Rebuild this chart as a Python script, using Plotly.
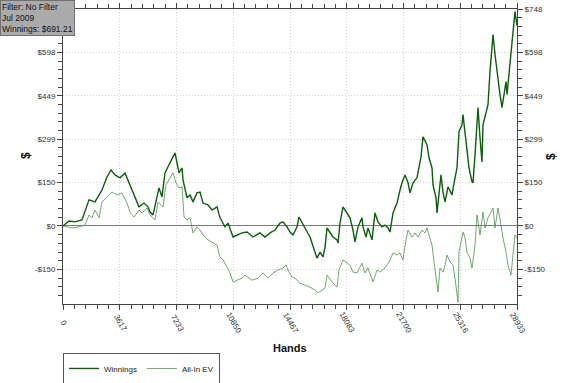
import plotly.graph_objects as go

# ---- data ----
hands_w = [0,382,765,1211,1657,2039,2485,2804,3059,3314,
           3633,3951,4206,4397,4588,4843,5162,5417,5545,5736,
           5991,6118,6309,6500,6692,6947,7138,7265,7393,7584,
           7648,7902,8094,8285,8540,8731,8922,9241,9496,9814,
           10006,10324,10515,10834,11089,11408,11726,12109,12555,12873,
           13192,13511,13829,14021,14276,14467,14658,14913,15040,15231,
           15423,15741,15932,16187,16379,16570,16697,16825,17207,17462,
           17526,17653,17844,18099,18291,18482,18609,18800,19055,19119,
           19310,19438,19693,19884,20075,20330,20521,20712,20840,21031,
           21286,21477,21604,21796,21987,22114,22306,22560,22624,22815,
           22943,23198,23325,23516,23580,23771,23835,23962,24089,24217,
           24345,24536,24791,24982,25110,25237,25428,25492,25619,25747,
           25874,26065,26129,26257,26384,26448,26575,26703,26766,26957,
           27085,27212,27340,27404,27531,27658,27850,27977,28105,28232,
           28296,28487,28679,28806,28933]
winnings = [0,17,14,21,90,83,124,169,193,176,
            166,183,149,124,100,66,79,66,48,38,
            100,131,100,183,204,235,252,218,183,200,
            159,97,107,83,114,117,79,73,55,66,
            28,-3,10,-38,-31,-24,-21,-38,-24,-38,
            -24,-14,10,14,-3,-21,-31,-3,31,14,
            -7,-38,-73,-111,-90,-107,-73,-7,-38,-48,
            -59,10,66,45,28,-14,-55,-3,28,-3,
            -38,-7,-48,45,14,-3,3,-7,-21,45,
            79,124,149,176,149,114,149,166,183,238,
            307,280,235,200,142,97,45,107,176,117,
            83,135,107,166,200,325,349,384,325,245,
            200,152,149,245,384,408,304,221,349,394,
            418,532,636,660,591,532,453,408,453,498,
            453,556,660,739,691]

hands_ev = [0,574,1020,1402,1657,1848,2039,2294,2485,2804,
            3123,3441,3760,4079,4270,4525,4843,5035,5353,5545,
            5863,6054,6373,6564,6755,7010,7201,7393,7584,7648,
            7711,7902,8094,8285,8540,8731,8922,9241,9560,9814,
            10006,10197,10452,10643,10834,11089,11408,11599,12045,12427,
            12746,13065,13383,13702,14021,14212,14339,14594,14785,15104,
            15423,15741,16060,16251,16506,16697,16825,17143,17462,17589,
            17844,18099,18291,18482,18737,19055,19246,19438,19756,20011,
            20202,20521,20776,21031,21286,21477,21668,21859,21987,22242,
            22433,22624,22879,23070,23198,23325,23516,23644,23835,23899,
            24026,24217,24345,24472,24663,24855,24982,25110,25173,25237,
            25428,25492,25619,25747,25938,26065,26257,26384,26575,26766,
            26894,27085,27276,27404,27531,27722,27913,28041,28232,28360,
            28551,28679,28806,28933]
allin_ev = [0,-7,-3,3,38,28,55,28,83,100,
            117,107,114,79,48,31,55,45,62,38,
            21,83,66,142,159,183,149,131,135,90,
            31,21,28,-24,-3,-14,-31,-48,-59,-66,
            -107,-117,-142,-162,-193,-187,-180,-169,-187,-180,
            -162,-180,-162,-152,-145,-135,-152,-176,-180,-197,
            -204,-211,-221,-231,-221,-214,-169,-193,-211,-152,
            -117,-128,-135,-159,-162,-128,-162,-145,-193,-152,
            -159,-145,-124,-93,-100,-93,-117,-48,-14,-38,
            -24,-38,-14,-24,-7,-31,-66,-124,-204,-228,
            -145,-159,-135,-100,-124,-135,-180,-228,-263,-90,
            -41,-21,-41,-90,-111,-145,-66,38,-31,48,
            -7,28,48,62,-7,62,3,-41,-90,-135,
            -169,-100,-31,-41]

x_tickvals = [0, 3616.6, 7233.3, 10850, 14466.5, 18083.1, 21699.8, 25316.4, 28933]
x_ticktext = ["0", "3617", "7233", "10850", "14467", "18083", "21700", "25316", "28933"]
y_tickvals = [-149.6, 0, 149.6, 299.2, 448.8, 598.4, 748]
y_ticktext = ["-$150", "$0", "$150", "$299", "$449", "$598", "$748"]
# the top-left label is hidden behind the filter box in the reference
y_ticktext_left = y_ticktext[:-1] + [""]
y_range = [-269, 748]
x_range = [0, 28933]

FONT = "Liberation Sans, Arial, sans-serif"
TICKCOL = "#333333"

fig = go.Figure()
fig.add_trace(go.Scatter(x=hands_w, y=winnings, name="Winnings", mode="lines",
                         line=dict(color="#0b5e0b", width=1.4)))
fig.add_trace(go.Scatter(x=hands_ev, y=allin_ev, name="All-In EV", mode="lines",
                         line=dict(color="#4f8f4f", width=0.8)))
# invisible trace so the right-hand axis is drawn
fig.add_trace(go.Scatter(x=hands_w[:1], y=winnings[:1], yaxis="y2", mode="markers",
                         marker=dict(size=0.1, opacity=0), showlegend=False,
                         hoverinfo="skip"))

grid = dict(showgrid=True, gridcolor="#d2d2d2", griddash="1px,2px", gridwidth=1)

fig.update_layout(
    width=580, height=383,
    margin=dict(l=63, r=63, t=9, b=79, autoexpand=False),
    paper_bgcolor="white", plot_bgcolor="white",
    font=dict(family=FONT, size=8, color=TICKCOL),
    xaxis=dict(range=x_range, tickvals=x_tickvals, ticktext=x_ticktext,
               showticklabels=False, ticks="outside", ticklen=5, tickcolor="#444",
               showline=True, linecolor="#444", linewidth=1, mirror="ticks",
               zeroline=False, automargin=False,
               minor=dict(dtick=723.32, tick0=0, ticks="outside", ticklen=4,
                          tickcolor="#444", showgrid=False),
               **grid),
    yaxis=dict(range=y_range, tickvals=y_tickvals, ticktext=y_ticktext_left,
               ticks="outside", ticklen=5, tickcolor="#444",
               showline=True, linecolor="#444", linewidth=1,
               zeroline=True, zerolinecolor="#7a7a7a", zerolinewidth=1,
               automargin=False,
               tickfont=dict(family=FONT, size=8, color=TICKCOL),
               minor=dict(dtick=29.92, tick0=0, ticks="outside", ticklen=4,
                          tickcolor="#444", showgrid=False),
               **grid),
    yaxis2=dict(range=y_range, tickvals=y_tickvals, ticktext=y_ticktext,
                overlaying="y", side="right", anchor="x",
                ticks="outside", ticklen=5, tickcolor="#444",
                showline=True, linecolor="#444", linewidth=1,
                showgrid=False, zeroline=False, automargin=False,
                tickfont=dict(family=FONT, size=8, color=TICKCOL),
                minor=dict(dtick=29.92, tick0=0, ticks="outside", ticklen=4,
                           tickcolor="#444", showgrid=False)),
    legend=dict(orientation="h", x=0, y=-0.166, xanchor="left", yanchor="top",
                bordercolor="#555", borderwidth=1, bgcolor="white",
                font=dict(family=FONT, size=8, color="#222"),
                itemwidth=30, tracegroupgap=0),
    showlegend=True,
)

annotations = []
for v, t in zip(x_tickvals, x_ticktext):
    annotations.append(dict(x=v, xref="x", y=-0.0644, yref="paper", text=t,
                            showarrow=False, textangle=60, xanchor="center",
                            yanchor="middle",
                            font=dict(family=FONT, size=8, color=TICKCOL)))
annotations += [
    dict(x=0.5, xref="paper", y=-0.176, yref="paper", text="<b>Hands</b>",
         showarrow=False, font=dict(family=FONT, size=11, color="#111")),
    dict(x=-0.1013, xref="paper", y=0.502, yref="paper", text="<b>$</b>",
         showarrow=False, textangle=-90, font=dict(family=FONT, size=12, color="#111")),
    dict(x=1.0947, xref="paper", y=0.502, yref="paper", text="<b>$</b>",
         showarrow=False, textangle=-90, font=dict(family=FONT, size=12, color="#111")),
    dict(x=-0.1388, xref="paper", y=1.0305, yref="paper", xanchor="left", yanchor="top",
         text="Filter: No Filter<br>Jul 2009<br>Winnings: $691.21", align="left",
         showarrow=False, bgcolor="#ababab", bordercolor="#707070", borderwidth=1,
         borderpad=1, font=dict(family=FONT, size=8.5, color="#111")),
]
fig.update_layout(annotations=annotations)

fig.write_html("out.html", config={"displayModeBar": False},
               post_script="document.body.style.margin='0';document.body.style.overflow='hidden';")
